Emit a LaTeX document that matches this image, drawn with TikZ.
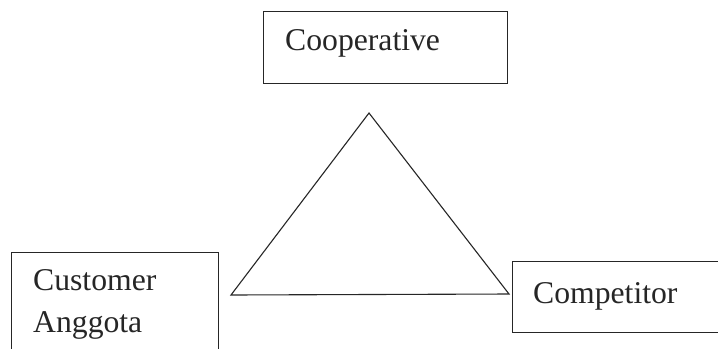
\documentclass[tikz,border=0pt]{standalone}
\usepackage{fontspec}
\setmainfont{Liberation Serif}
\begin{document}
\begin{tikzpicture}[x=1bp,y=-1bp,
  frame/.style={draw=black!85, line width=1.1bp},
  boxlabel/.style={anchor=base west, inner sep=0pt, font=\fontsize{31.8}{40}\selectfont, text=black!85},
  tri/.style={draw=black!85, line width=1.1bp, line join=miter}]
\useasboundingbox[fill=white] (0,0) rectangle (718,348);
% boxes
\node[frame, anchor=north west, minimum width=244bp, minimum height=72bp, inner sep=0pt] (coop) at (263,11) {};
\node[frame, anchor=north west, minimum width=207bp, minimum height=100bp, inner sep=0pt] (cust) at (11,252) {};
\node[frame, anchor=north west, minimum width=215bp, minimum height=71bp, inner sep=0pt] (comp) at (512,261) {};
% labels
\node[boxlabel] (coopt) at (285,50) {Cooperative};
\node[boxlabel] (custt1) at (33,290) {Customer};
\node[boxlabel] (custt2) at (33,332) {Anggota};
\node[boxlabel] (compt) at (533,303) {Competitor};
% triangle
\coordinate (ta) at (369,113);
\coordinate (tl) at (231,295);
\coordinate (tr) at (509,294);
\draw[tri] (ta) -- (tl) -- (tr) -- cycle;
\end{tikzpicture}
\end{document}
